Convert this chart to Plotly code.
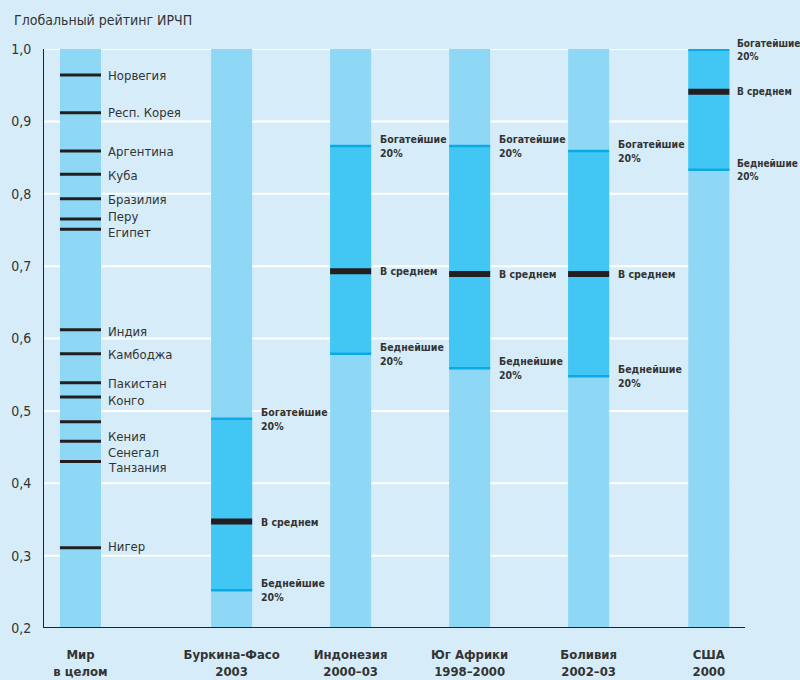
import plotly.graph_objects as go

# данные
stran_mir = ["Норвегия", "Респ. Корея", "Аргентина", "Куба", "Бразилия", "Перу", "Египет",
             "Индия", "Камбоджа", "Пакистан", "Конго", "Кения", "Сенегал", "Танзания", "Нигер"]
irchp_mir = [0.964, 0.912, 0.859, 0.827, 0.793, 0.765, 0.751,
             0.612, 0.579, 0.539, 0.519, 0.485, 0.458, 0.430, 0.311]
# положение подписей (сдвинуты там, где линии слишком близко)
podpis_y = [0.964, 0.912, 0.858, 0.825, 0.792, 0.768, 0.746,
            0.609, 0.578, 0.538, 0.514, 0.465, 0.443, 0.422, 0.313]

kategorii = ["Мир<br>в целом", "Буркина-Фасо<br>2003", "Индонезия<br>2000–03",
             "Юг Африки<br>1998–2000", "Боливия<br>2002–03", "США<br>2000"]
bogatye = [0.489, 0.866, 0.866, 0.859, 0.999]
srednee = [0.347, 0.693, 0.689, 0.689, 0.941]
bednye = [0.252, 0.579, 0.559, 0.548, 0.833]

x_pos = [0, 1.27, 2.27, 3.27, 4.27, 5.28]
w = 0.345

C_BG = "#d6edf9"
C_BAR = "#8fd8f5"
C_MID = "#42c6f3"
C_EDGE = "#0aa9e8"
C_DARK = "#231f20"
FONT = "Liberation Sans Narrow, DejaVu Sans Condensed, sans-serif"

fig = go.Figure()

# светлые столбцы 0,2–1,0
fig.add_trace(go.Bar(x=x_pos, y=[0.8] * 6, base=0.2, width=w,
                     marker=dict(color=C_BAR, line=dict(width=0)), hoverinfo="skip"))
# диапазон беднейшие–богатейшие
fig.add_trace(go.Bar(x=x_pos[1:], y=[b - p for b, p in zip(bogatye, bednye)], base=bednye,
                     width=w, marker=dict(color=C_MID, line=dict(width=0)), hoverinfo="skip"))


def segs(xs, ys):
    sx, sy = [], []
    for x, y in zip(xs, ys):
        sx += [x - w / 2, x + w / 2, None]
        sy += [y, y, None]
    return sx, sy


sx, sy = segs([x_pos[0]] * len(irchp_mir), irchp_mir)
fig.add_trace(go.Scatter(x=sx, y=sy, mode="lines", line=dict(color=C_DARK, width=3), hoverinfo="skip"))
sx, sy = segs(x_pos[1:] * 2, bogatye + bednye)
fig.add_trace(go.Scatter(x=sx, y=sy, mode="lines", line=dict(color=C_EDGE, width=2.5), hoverinfo="skip"))
sx, sy = segs(x_pos[1:], srednee)
fig.add_trace(go.Scatter(x=sx, y=sy, mode="lines", line=dict(color=C_DARK, width=6), hoverinfo="skip"))

ann = []
for name, y in zip(stran_mir, podpis_y):
    ann.append(dict(x=x_pos[0] + w / 2 + 0.045, y=y, text=name, showarrow=False,
                    xanchor="left", yanchor="middle",
                    font=dict(family=FONT, size=13, color="#333")))
for i, xc in enumerate(x_pos[1:]):
    posl = i == len(bogatye) - 1  # у правого края чуть мельче, чтобы не обрезалось
    for y, t in [(bogatye[i], "Богатейшие<br>20%"), (srednee[i], "В среднем"),
                 (bednye[i], "Беднейшие<br>20%")]:
        ann.append(dict(x=xc + w / 2 + (0.045 if posl else 0.055), y=y, text="<b>" + t + "</b>",
                        showarrow=False, xanchor="left", yanchor="middle", align="left",
                        font=dict(family=FONT, size=10 if posl else 10.5, color="#333")))
ann.append(dict(x=-0.044, y=1.05, xref="paper", yref="paper", text="Глобальный рейтинг ИРЧП",
                showarrow=False, xanchor="left", yanchor="middle",
                font=dict(family=FONT, size=14, color="#333")))

# сетка только до правого края последнего столбца
shapes = []
for v in [0.3, 0.4, 0.5, 0.6, 0.7, 0.8, 0.9, 1.0]:
    shapes.append(dict(type="line", xref="x", yref="y", x0=-0.315, x1=x_pos[-1] + w / 2,
                       y0=v, y1=v, layer="below", line=dict(color="white", width=2)))
shapes.append(dict(type="line", xref="x", yref="y", x0=-0.315, x1=-0.315, y0=0.2, y1=1.0,
                   line=dict(color="#222", width=2)))
shapes.append(dict(type="line", xref="x", yref="y", x0=-0.315, x1=5.584, y0=0.2, y1=0.2,
                   line=dict(color="#222", width=2)))

fig.update_layout(
    width=800, height=680,
    paper_bgcolor=C_BG, plot_bgcolor=C_BG,
    margin=dict(l=43, r=55, t=49, b=52),
    barmode="overlay", showlegend=False,
    separators=", ",
    annotations=ann, shapes=shapes,
    xaxis=dict(range=[-0.315, 5.584], tickvals=x_pos, ticktext=["<b>" + k + "</b>" for k in kategorii],
               showgrid=False, zeroline=False, ticks="outside", ticklen=14, tickcolor="rgba(0,0,0,0)",
               automargin=False, tickfont=dict(family=FONT, size=13, color="#333")),
    yaxis=dict(range=[0.2, 1.0], tickvals=[0.2, 0.3, 0.4, 0.5, 0.6, 0.7, 0.8, 0.9, 1.0],
               tickformat=".1f", showgrid=False, zeroline=False, automargin=False,
               ticks="outside", ticklen=8, tickcolor="rgba(0,0,0,0)",
               tickfont=dict(family=FONT, size=14, color="#333")),
)

fig.write_html("out.html", config={"displayModeBar": False},
               post_script="document.body.style.margin='0';")
